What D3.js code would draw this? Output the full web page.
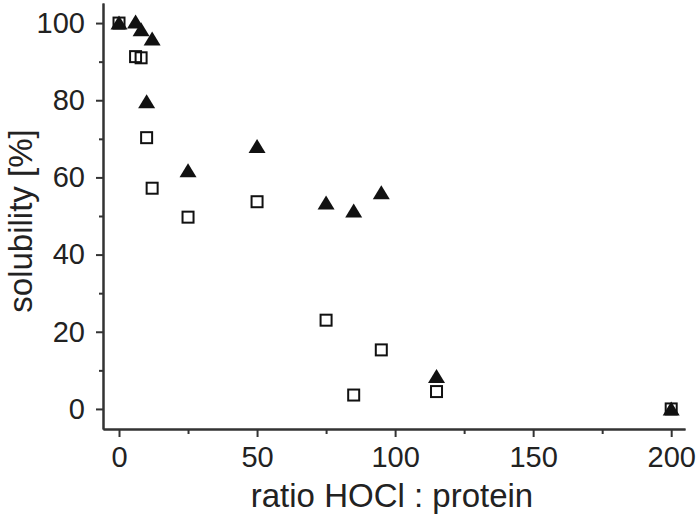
<!DOCTYPE html>
<html>
<head>
<meta charset="utf-8">
<script src="https://cdn.jsdelivr.net/npm/d3@7"></script>
<style>
  html, body { margin: 0; padding: 0; background: #fff; }
  svg text { font-family: "Liberation Sans", Arial, sans-serif; fill: #222; }
</style>
</head>
<body>
<svg id="chart" width="698" height="525"></svg>
<script>
// ratio HOCl : protein
const ratios = [0, 6, 8, 10, 12, 25, 50, 75, 85, 95, 115, 200];
// open squares
const squareValues = [100, 91.3, 91.0, 70.3, 57.2, 49.7, 53.7, 23.0, 3.6, 15.3, 4.5, 0];
// filled triangles
const triangleValues = [100, 100.3, 98.3, 79.6, 95.9, 61.7, 68.0, 53.4, 51.3, 56.0, 8.4, 0];

const xMajorTicks = [0, 50, 100, 150, 200];
const xMinorTicks = [25, 75, 125, 175];
const yMajorTicks = [0, 20, 40, 60, 80, 100];
const yMinorTicks = [10, 30, 50, 70, 90];

const xTitle = "ratio HOCl : protein";
const yTitle = "solubility [%]";

const svg = d3.select("#chart");
const axisColor = "#333";
const markColor = "#111";

const x = d3.scaleLinear().domain([-5.8, 205]).range([103, 685]);
const y = d3.scaleLinear().domain([-5.2, 105.2]).range([429, 3]);

// minor ticks
const xMinorAxis = d3.axisBottom(x).tickValues(xMinorTicks).tickSize(5).tickFormat("").tickSizeOuter(0);
const yMinorAxis = d3.axisLeft(y).tickValues(yMinorTicks).tickSize(4).tickFormat("").tickSizeOuter(0);
// major ticks
const xAxis = d3.axisBottom(x).tickValues(xMajorTicks).tickSize(8).tickPadding(9).tickSizeOuter(0);
const yAxis = d3.axisLeft(y).tickValues(yMajorTicks).tickSize(7).tickPadding(11).tickSizeOuter(0);

function styleAxis(g) {
  g.selectAll("path.domain").attr("stroke", axisColor).attr("stroke-width", 2);
  g.selectAll(".tick line").attr("stroke", axisColor).attr("stroke-width", 2);
  g.selectAll(".tick text").style("font-family", '"Liberation Sans", Arial, sans-serif')
    .style("font-size", "29px").attr("fill", "#222");
}

svg.append("g").attr("transform", "translate(0,429)").call(xMinorAxis).call(styleAxis);
svg.append("g").attr("transform", "translate(103,0)").call(yMinorAxis).call(styleAxis);
svg.append("g").attr("transform", "translate(0,429)").call(xAxis).call(styleAxis);
svg.append("g").attr("transform", "translate(103,0)").call(yAxis).call(styleAxis);

// axis titles
svg.append("text")
  .attr("x", 392).attr("y", 507)
  .attr("text-anchor", "middle")
  .style("font-size", "33px")
  .text(xTitle);

svg.append("text")
  .attr("transform", "translate(32,221) rotate(-90)")
  .attr("text-anchor", "middle")
  .style("font-size", "33px")
  .text(yTitle);

const squares = ratios.map((r, i) => ({ x: r, v: squareValues[i] }));
const triangles = ratios.map((r, i) => ({ x: r, v: triangleValues[i] }));

// squares (open)
svg.append("g").selectAll("rect")
  .data(squares).join("rect")
  .attr("x", d => x(d.x) - 5.5)
  .attr("y", d => y(d.v) - 5.5)
  .attr("width", 11).attr("height", 11)
  .attr("fill", "none")
  .attr("stroke", markColor)
  .attr("stroke-width", 2);

// triangles (filled)
const triPath = "M0,-7.5L8.5,6.5L-8.5,6.5Z";
svg.append("g").selectAll("path")
  .data(triangles).join("path")
  .attr("d", triPath)
  .attr("transform", d => `translate(${x(d.x)},${y(d.v)})`)
  .attr("fill", markColor);
</script>
</body>
</html>
